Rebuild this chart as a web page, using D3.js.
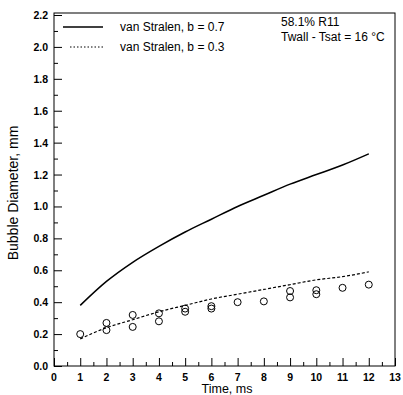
<!DOCTYPE html>
<html>
<head>
<meta charset="utf-8">
<script src="https://cdn.jsdelivr.net/npm/d3@7"></script>
<style>
  body { margin: 0; background: #fff; }
  svg { font-family: "Liberation Sans", Arial, sans-serif; }
</style>
</head>
<body>
<svg id="chart" width="403" height="395"></svg>
<script>
// model curves (van Stralen)
const timeModel = [1, 2, 3, 4, 5, 6, 7, 8, 9, 10, 11, 12];
const strong = [0.38, 0.53, 0.65, 0.75, 0.84, 0.92, 1.00, 1.07, 1.14, 1.20, 1.26, 1.33];
const weak = [0.17, 0.24, 0.29, 0.34, 0.38, 0.42, 0.45, 0.48, 0.51, 0.54, 0.56, 0.59];

// measured bubble diameters
const measTime = [1, 2, 2, 3, 3, 4, 4, 5, 5, 6, 6, 7, 8, 9, 9, 10, 10, 11, 12];
const measDiam = [0.20, 0.27, 0.225, 0.32, 0.245, 0.33, 0.28, 0.36, 0.34, 0.375, 0.36, 0.40, 0.405, 0.47, 0.43, 0.475, 0.45, 0.49, 0.51];

const xTicks = d3.range(0, 14);
const yTicks = d3.range(0, 2.21, 0.2);

const svg = d3.select('#chart');
const margin = { top: 13, right: 8, bottom: 29, left: 54 };
const width = 403, height = 395;

const x = d3.scaleLinear().domain([0, 13]).range([margin.left, width - margin.right]);
const y = d3.scaleLinear().domain([0, 2.2]).range([height - margin.bottom, margin.top + 2]);

// frame
svg.append('rect')
    .attr('x', x(0)).attr('y', margin.top)
    .attr('width', x(13) - x(0)).attr('height', y(0) - margin.top)
    .attr('fill', 'none').attr('stroke', '#000').attr('stroke-width', 1);

// y axis ticks (inward)
svg.append('g').attr('transform', `translate(${x(0)},0)`)
    .call(d3.axisRight(y).tickValues(yTicks).tickSize(8).tickFormat(''))
    .call(g => g.select('.domain').remove());
svg.append('g').attr('transform', `translate(${x(0)},0)`)
    .call(d3.axisRight(y).tickValues(d3.range(0.1, 2.2, 0.2)).tickSize(4).tickFormat(''))
    .call(g => g.select('.domain').remove());

// y labels
svg.append('g').selectAll('text')
    .data(yTicks)
    .enter()
    .append('text')
    .attr('x', x(0) - 6)
    .attr('y', d => y(d) + 4)
    .attr('text-anchor', 'end')
    .attr('font-size', 10.5)
    .attr('font-weight', 'bold')
    .text(d => d.toFixed(1));

// x axis ticks (inward)
svg.append('g').attr('transform', `translate(0,${y(0)})`)
    .call(d3.axisTop(x).tickValues(xTicks).tickSize(8).tickFormat(''))
    .call(g => g.select('.domain').remove());
svg.append('g').attr('transform', `translate(0,${y(0)})`)
    .call(d3.axisTop(x).tickValues(d3.range(0.5, 13, 1)).tickSize(4).tickFormat(''))
    .call(g => g.select('.domain').remove());

svg.append('g').selectAll('text')
    .data(xTicks)
    .enter()
    .append('text')
    .attr('x', d => x(d))
    .attr('y', y(0) + 15)
    .attr('text-anchor', 'middle')
    .attr('font-size', 10.5)
    .attr('font-weight', 'bold')
    .text(d => d);

// axis titles
svg.append('text')
    .attr('x', 227).attr('y', 393)
    .attr('text-anchor', 'middle')
    .attr('font-size', 12.5)
    .text('Time, ms');
svg.append('text')
    .attr('transform', `translate(18,193) rotate(-90)`)
    .attr('text-anchor', 'middle')
    .attr('font-size', 14)
    .text('Bubble Diameter, mm');

// curves
const line = d3.line()
    .x(d => x(d[0]))
    .y(d => y(d[1]))
    .curve(d3.curveMonotoneX);

svg.append('path')
    .datum(timeModel.map((t, i) => [t, strong[i]]))
    .attr('d', line)
    .attr('fill', 'none').attr('stroke', '#000').attr('stroke-width', 1.5);

svg.append('path')
    .datum(timeModel.map((t, i) => [t, weak[i]]))
    .attr('d', line)
    .attr('fill', 'none').attr('stroke', '#000').attr('stroke-width', 1.2)
    .attr('stroke-dasharray', '3,2');

// measured points
svg.append('g').selectAll('circle')
    .data(measTime.map((t, i) => [t, measDiam[i]]))
    .enter()
    .append('circle')
    .attr('cx', d => x(d[0]))
    .attr('cy', d => y(d[1]))
    .attr('r', 3.5)
    .attr('fill', 'none')
    .attr('stroke', '#000')
    .attr('stroke-width', 1);

// legend
const legend = svg.append('g');
legend.append('line')
    .attr('x1', 63).attr('x2', 103).attr('y1', 27).attr('y2', 27)
    .attr('stroke', '#000').attr('stroke-width', 1.5);
legend.append('line')
    .attr('x1', 70).attr('x2', 105).attr('y1', 47).attr('y2', 47)
    .attr('stroke', '#000').attr('stroke-width', 1).attr('stroke-dasharray', '1.5,2');
legend.append('text').attr('x', 120).attr('y', 31).attr('font-size', 12)
    .text('van Stralen, b = 0.7');
legend.append('text').attr('x', 120).attr('y', 51).attr('font-size', 12)
    .text('van Stralen, b = 0.3');

// run conditions
svg.append('text').attr('x', 281).attr('y', 26).attr('font-size', 12).text('58.1% R11');
svg.append('text').attr('x', 281).attr('y', 41).attr('font-size', 12).text('Twall - Tsat = 16 \u00B0C');
</script>
</body>
</html>
